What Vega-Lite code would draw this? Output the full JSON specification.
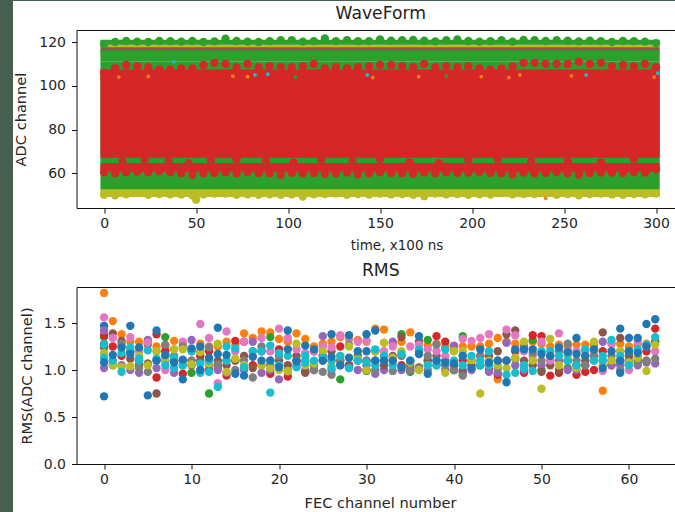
{"$schema":"https://vega.github.io/schema/vega-lite/v6.json","padding":0,"background":"white","autosize":{"type":"pad"},"spacing":0,"bounds":"flush",
"config":{"font":"DejaVu Sans","view":{"stroke":null},"axis":{"grid":false,"labelFont":"DejaVu Sans","titleFont":"DejaVu Sans","labelFontSize":14,"titleFontSize":14.6,"titleFontWeight":"normal","labelColor":"#262626","titleColor":"#262626","tickColor":"#111","domainColor":"#111","tickSize":5,"labelPadding":4,"domain":false},"title":{"font":"DejaVu Sans","fontSize":17.2,"fontWeight":"normal","color":"#222","offset":8}},
"datasets":{
"bands":[{"t":-2,"t2":302,"y":49.2,"y2":53,"c":"olive"},{"t":-2,"t2":302,"y":115.5,"y2":118,"c":"brown"},{"t":-2,"t2":302,"y":117.6,"y2":118.9,"c":"olive"},{"t":-2,"t2":302,"y":52.8,"y2":111,"c":"green"},{"t":-2,"t2":302,"y":111,"y2":116.2,"c":"green"},{"t":-2,"t2":302,"y":118.8,"y2":121,"c":"green"},{"t":-2,"t2":302,"y":60.8,"y2":64.8,"c":"red"},{"t":-2,"t2":302,"y":67.2,"y2":107.5,"c":"red"}],
"oliveLo":[{"t":0,"y":50.2},{"t":6,"y":50},{"t":12,"y":50.5},{"t":18,"y":51.5},{"t":24,"y":50.2},{"t":30,"y":50.6},{"t":36,"y":50.5},{"t":42,"y":50.4},{"t":48,"y":50},{"t":50,"y":48},{"t":54,"y":50.4},{"t":60,"y":50.8},{"t":66,"y":50.8},{"t":72,"y":50.2},{"t":78,"y":50.4},{"t":84,"y":50.2},{"t":90,"y":50.5},{"t":96,"y":50.2},{"t":102,"y":50.4},{"t":108,"y":49.4},{"t":114,"y":50.5},{"t":120,"y":50.6},{"t":126,"y":50.8},{"t":132,"y":50.2},{"t":138,"y":50.6},{"t":144,"y":50.3},{"t":150,"y":50.8},{"t":156,"y":50.4},{"t":162,"y":50.6},{"t":168,"y":50.2},{"t":174,"y":49.6},{"t":180,"y":50.8},{"t":186,"y":50.4},{"t":192,"y":50.6},{"t":198,"y":50.2},{"t":204,"y":50.5},{"t":210,"y":50.3},{"t":216,"y":51},{"t":222,"y":50.4},{"t":228,"y":50.6},{"t":234,"y":50.6},{"t":240,"y":50.8},{"t":246,"y":50.2},{"t":252,"y":50.6},{"t":258,"y":50},{"t":264,"y":50.6},{"t":270,"y":50.8},{"t":276,"y":50.4},{"t":282,"y":50.2},{"t":288,"y":50.6},{"t":294,"y":50.5},{"t":300,"y":50.8}],
"greenTop":[{"t":0,"y":119},{"t":6,"y":120},{"t":12,"y":120.5},{"t":18,"y":120.2},{"t":24,"y":120},{"t":30,"y":120.5},{"t":36,"y":120.4},{"t":42,"y":120.2},{"t":48,"y":120.5},{"t":54,"y":120},{"t":60,"y":120.3},{"t":66,"y":121.5},{"t":72,"y":120.5},{"t":78,"y":120.2},{"t":84,"y":120},{"t":90,"y":120.4},{"t":96,"y":120.8},{"t":102,"y":120.8},{"t":108,"y":120.2},{"t":114,"y":120.4},{"t":120,"y":121.6},{"t":126,"y":120.4},{"t":132,"y":120.8},{"t":138,"y":120.4},{"t":144,"y":120.4},{"t":150,"y":121.2},{"t":156,"y":120.6},{"t":162,"y":120.8},{"t":168,"y":121},{"t":174,"y":120.6},{"t":180,"y":120.3},{"t":186,"y":120.8},{"t":192,"y":121.2},{"t":198,"y":120.5},{"t":204,"y":120.2},{"t":210,"y":120.4},{"t":216,"y":120.8},{"t":222,"y":120.2},{"t":228,"y":121},{"t":234,"y":120.8},{"t":240,"y":120.5},{"t":246,"y":120.8},{"t":252,"y":120.6},{"t":258,"y":120.3},{"t":264,"y":120.6},{"t":270,"y":120.4},{"t":276,"y":120},{"t":282,"y":120.5},{"t":288,"y":120.4},{"t":294,"y":120.2},{"t":300,"y":119.5}],
"redPts":[{"t":0,"y":106},{"t":6,"y":108},{"t":12,"y":109.5},{"t":18,"y":109},{"t":24,"y":108.5},{"t":30,"y":107.5},{"t":36,"y":107.5},{"t":42,"y":108},{"t":48,"y":108},{"t":54,"y":109.5},{"t":60,"y":110.5},{"t":66,"y":110},{"t":72,"y":108.5},{"t":78,"y":110},{"t":84,"y":108.5},{"t":90,"y":109},{"t":96,"y":108.5},{"t":102,"y":108.5},{"t":108,"y":109},{"t":114,"y":110},{"t":120,"y":108},{"t":126,"y":108.5},{"t":132,"y":108},{"t":138,"y":108.5},{"t":144,"y":109},{"t":150,"y":109.5},{"t":156,"y":109.5},{"t":162,"y":109},{"t":168,"y":108.5},{"t":174,"y":110},{"t":180,"y":108.5},{"t":186,"y":109},{"t":192,"y":108.5},{"t":198,"y":109},{"t":204,"y":108},{"t":210,"y":107.5},{"t":216,"y":108},{"t":222,"y":109},{"t":228,"y":110.5},{"t":234,"y":110.5},{"t":240,"y":110},{"t":246,"y":110},{"t":252,"y":110},{"t":258,"y":111},{"t":264,"y":110},{"t":270,"y":110.5},{"t":276,"y":109},{"t":282,"y":109.5},{"t":288,"y":109},{"t":294,"y":110},{"t":300,"y":108.5},
{"t":0,"y":60.5},{"t":6,"y":60},{"t":12,"y":60.5},{"t":18,"y":60.8},{"t":24,"y":60.5},{"t":30,"y":61},{"t":36,"y":60.5},{"t":42,"y":60},{"t":48,"y":59.4},{"t":54,"y":60},{"t":60,"y":60.2},{"t":66,"y":60.5},{"t":72,"y":60},{"t":78,"y":60.6},{"t":84,"y":60.2},{"t":90,"y":60},{"t":96,"y":59.4},{"t":102,"y":60.3},{"t":108,"y":60},{"t":114,"y":60.2},{"t":120,"y":59.8},{"t":126,"y":60},{"t":132,"y":60.4},{"t":138,"y":59.6},{"t":144,"y":60},{"t":150,"y":60.5},{"t":156,"y":60.2},{"t":162,"y":60},{"t":168,"y":59.8},{"t":174,"y":60.4},{"t":180,"y":60},{"t":186,"y":60.5},{"t":192,"y":60.2},{"t":198,"y":60.4},{"t":204,"y":60.6},{"t":210,"y":60.2},{"t":216,"y":60},{"t":222,"y":59.6},{"t":228,"y":60.4},{"t":234,"y":60},{"t":240,"y":60.3},{"t":246,"y":60.6},{"t":252,"y":60},{"t":258,"y":59.4},{"t":264,"y":60.2},{"t":270,"y":60.4},{"t":276,"y":60.4},{"t":282,"y":60.2},{"t":288,"y":60.6},{"t":294,"y":60.4},{"t":300,"y":62},
{"t":10,"y":65.5},{"t":22,"y":66},{"t":35,"y":65.5},{"t":46,"y":64.5},{"t":58,"y":66},{"t":72,"y":66.5},{"t":88,"y":65.5},{"t":103,"y":65},{"t":118,"y":66},{"t":135,"y":65.5},{"t":150,"y":66.5},{"t":166,"y":65},{"t":182,"y":64.5},{"t":198,"y":66},{"t":214,"y":66.5},{"t":232,"y":65.5},{"t":252,"y":65.5},{"t":270,"y":65},{"t":288,"y":66.5}],
"specks":[{"t":8,"y":104,"c":"orange"},{"t":24,"y":104.3,"c":"orange"},{"t":38,"y":111,"c":"cyan"},{"t":70,"y":104.4,"c":"orange"},{"t":78,"y":104.2,"c":"orange"},{"t":82,"y":105,"c":"cyan"},{"t":89,"y":105.3,"c":"cyan"},{"t":104,"y":104,"c":"green"},{"t":143,"y":105,"c":"cyan"},{"t":146,"y":103.8,"c":"orange"},{"t":171,"y":104.2,"c":"orange"},{"t":186,"y":104.6,"c":"green"},{"t":205,"y":104.2,"c":"orange"},{"t":220,"y":103.8,"c":"orange"},{"t":226,"y":105,"c":"orange"},{"t":254,"y":104.6,"c":"orange"},{"t":262,"y":105,"c":"cyan"},{"t":301,"y":105.8,"c":"cyan"},{"t":299,"y":104,"c":"orange"},{"t":240,"y":48.6,"c":"orange"}],
"bBack":[{"c":0,"v":1.47}],
"orange":[{"c":0,"v":1.82},{"c":1,"v":1.52},{"c":2,"v":1.38},{"c":3,"v":1.3},{"c":4,"v":1.3},{"c":5,"v":1.27},{"c":6,"v":1.25},{"c":7,"v":1.25},{"c":8,"v":1.31},{"c":9,"v":1.29},{"c":10,"v":1.22},{"c":11,"v":1.28},{"c":12,"v":1.25},{"c":13,"v":1.25},{"c":14,"v":1.3},{"c":15,"v":1.27},{"c":16,"v":1.39},{"c":17,"v":1.34},{"c":18,"v":1.41},{"c":19,"v":1.4},{"c":20,"v":1.33},{"c":21,"v":1.3},{"c":22,"v":1.39},{"c":23,"v":1.33},{"c":24,"v":1.25},{"c":25,"v":1.28},{"c":26,"v":1.3},{"c":27,"v":1.35},{"c":28,"v":1.33},{"c":29,"v":1.32},{"c":30,"v":1.3},{"c":31,"v":1.44},{"c":32,"v":1.43},{"c":33,"v":1.28},{"c":34,"v":1.3},{"c":35,"v":1.4},{"c":36,"v":1.3},{"c":37,"v":1.26},{"c":38,"v":1.28},{"c":39,"v":1.25},{"c":40,"v":1.22},{"c":41,"v":1.25},{"c":42,"v":1.25},{"c":43,"v":1.25},{"c":44,"v":1.28},{"c":45,"v":1.34},{"c":45,"v":0.9},{"c":46,"v":1.3},{"c":47,"v":1.28},{"c":48,"v":1.25},{"c":49,"v":1.3},{"c":50,"v":1.28},{"c":51,"v":1.25},{"c":52,"v":1.27},{"c":53,"v":1.25},{"c":54,"v":1.27},{"c":55,"v":1.27},{"c":56,"v":1.26},{"c":57,"v":0.78},{"c":58,"v":1.28},{"c":59,"v":1.28},{"c":60,"v":1.25},{"c":61,"v":1.27},{"c":62,"v":1.28},{"c":63,"v":1.3}],
"green":[{"c":0,"v":1.35},{"c":7,"v":1.35},{"c":10,"v":0.97},{"c":12,"v":0.75},{"c":13,"v":1.02},{"c":19,"v":1.35},{"c":27,"v":0.9},{"c":30,"v":0.99},{"c":34,"v":1.38},{"c":35,"v":0.98},{"c":37,"v":1.32},{"c":40,"v":1},{"c":41,"v":1.36},{"c":49,"v":1.32},{"c":50,"v":1},{"c":53,"v":1.02},{"c":59,"v":1.07}],
"red":[{"c":0,"v":1.37},{"c":1,"v":1.25},{"c":2,"v":1.15},{"c":3,"v":1.2},{"c":4,"v":1.1},{"c":5,"v":1.28},{"c":6,"v":1.38},{"c":6,"v":0.92},{"c":7,"v":1.2},{"c":8,"v":1.1},{"c":9,"v":0.96},{"c":10,"v":1.1},{"c":11,"v":1.15},{"c":12,"v":1.2},{"c":13,"v":1.05},{"c":14,"v":0.94},{"c":15,"v":1.31},{"c":16,"v":1.3},{"c":17,"v":1.05},{"c":18,"v":1.2},{"c":19,"v":0.96},{"c":20,"v":1.22},{"c":21,"v":0.93},{"c":22,"v":1.1},{"c":23,"v":0.98},{"c":24,"v":1.2},{"c":25,"v":1.15},{"c":26,"v":1.1},{"c":27,"v":1.25},{"c":28,"v":1.05},{"c":29,"v":1.1},{"c":30,"v":1},{"c":31,"v":1.2},{"c":32,"v":1.15},{"c":33,"v":1.1},{"c":34,"v":1.05},{"c":35,"v":1},{"c":36,"v":1.2},{"c":37,"v":1.1},{"c":38,"v":1.36},{"c":39,"v":1.3},{"c":40,"v":1},{"c":41,"v":1.1},{"c":42,"v":1.05},{"c":43,"v":1.15},{"c":44,"v":1},{"c":45,"v":0.95},{"c":46,"v":1.1},{"c":47,"v":1.2},{"c":48,"v":0.97},{"c":49,"v":1.37},{"c":50,"v":1.36},{"c":51,"v":0.94},{"c":52,"v":0.97},{"c":53,"v":1.1},{"c":54,"v":0.95},{"c":55,"v":0.98},{"c":56,"v":1},{"c":57,"v":1.2},{"c":58,"v":1.05},{"c":59,"v":1.1},{"c":60,"v":1.18},{"c":61,"v":1.13},{"c":62,"v":1.2},{"c":63,"v":1.44}],
"purple":[{"c":0,"v":1.42},{"c":0,"v":1.02},{"c":1,"v":1.1},{"c":2,"v":1.05},{"c":3,"v":1},{"c":4,"v":0.97},{"c":5,"v":1.32},{"c":6,"v":1.02},{"c":7,"v":1.1},{"c":8,"v":0.97},{"c":9,"v":1.05},{"c":10,"v":1.32},{"c":11,"v":1},{"c":12,"v":1.05},{"c":13,"v":1},{"c":14,"v":0.97},{"c":15,"v":1.1},{"c":16,"v":1},{"c":17,"v":1.3},{"c":18,"v":0.97},{"c":19,"v":1},{"c":20,"v":0.9},{"c":21,"v":1},{"c":22,"v":1.05},{"c":23,"v":1},{"c":24,"v":1},{"c":25,"v":1.36},{"c":26,"v":1},{"c":27,"v":1.05},{"c":28,"v":1.02},{"c":29,"v":1},{"c":30,"v":1.05},{"c":31,"v":0.96},{"c":32,"v":1},{"c":33,"v":1.3},{"c":34,"v":1},{"c":35,"v":1.02},{"c":36,"v":1.28},{"c":37,"v":1},{"c":38,"v":1.05},{"c":39,"v":1},{"c":40,"v":1.26},{"c":41,"v":1},{"c":42,"v":1},{"c":43,"v":1.05},{"c":44,"v":0.98},{"c":45,"v":0.97},{"c":46,"v":1.29},{"c":47,"v":1.05},{"c":48,"v":1},{"c":49,"v":1.1},{"c":50,"v":1.05},{"c":51,"v":1.1},{"c":52,"v":1.1},{"c":53,"v":1},{"c":54,"v":1},{"c":55,"v":1.05},{"c":56,"v":1.1},{"c":57,"v":1.3},{"c":58,"v":1.05},{"c":59,"v":1.05},{"c":60,"v":1.1},{"c":61,"v":1.05},{"c":62,"v":1.08},{"c":63,"v":1.07}],
"brown":[{"c":0,"v":1.24},{"c":1,"v":1.39},{"c":2,"v":1.31},{"c":3,"v":1.12},{"c":4,"v":1.05},{"c":5,"v":1.07},{"c":6,"v":0.75},{"c":7,"v":1.15},{"c":8,"v":1.1},{"c":9,"v":1.1},{"c":10,"v":1.05},{"c":11,"v":1.1},{"c":12,"v":1},{"c":13,"v":1.1},{"c":14,"v":1.05},{"c":15,"v":1.1},{"c":16,"v":1.15},{"c":17,"v":1.02},{"c":18,"v":1.05},{"c":19,"v":1.1},{"c":20,"v":1.1},{"c":21,"v":1.05},{"c":22,"v":1.15},{"c":23,"v":0.97},{"c":24,"v":1.05},{"c":25,"v":1.1},{"c":26,"v":1.2},{"c":27,"v":1.1},{"c":28,"v":1.05},{"c":29,"v":1.15},{"c":30,"v":1.1},{"c":31,"v":1.1},{"c":32,"v":1.05},{"c":33,"v":1.15},{"c":34,"v":1.35},{"c":35,"v":1.05},{"c":36,"v":1.3},{"c":37,"v":1.1},{"c":38,"v":1.15},{"c":39,"v":1.1},{"c":40,"v":1.05},{"c":41,"v":0.97},{"c":42,"v":1.1},{"c":43,"v":1.05},{"c":44,"v":1.15},{"c":45,"v":1.2},{"c":46,"v":1.38},{"c":47,"v":1.42},{"c":48,"v":1.1},{"c":49,"v":1.05},{"c":50,"v":0.98},{"c":51,"v":1.05},{"c":52,"v":1},{"c":53,"v":1.1},{"c":54,"v":1.05},{"c":55,"v":1.1},{"c":56,"v":1.15},{"c":57,"v":1.4},{"c":58,"v":1.1},{"c":59,"v":1.34},{"c":60,"v":1.15},{"c":61,"v":1.1},{"c":62,"v":1.1},{"c":63,"v":1.3}],
"pink":[{"c":0,"v":1.56},{"c":1,"v":1.34},{"c":2,"v":1.25},{"c":3,"v":1.35},{"c":4,"v":1.2},{"c":5,"v":1.29},{"c":6,"v":1.2},{"c":7,"v":1},{"c":8,"v":1.22},{"c":9,"v":1.3},{"c":10,"v":1.2},{"c":11,"v":1.49},{"c":12,"v":1.34},{"c":13,"v":0.86},{"c":14,"v":1.41},{"c":15,"v":1.2},{"c":16,"v":1.3},{"c":17,"v":1.15},{"c":18,"v":1.34},{"c":19,"v":1.2},{"c":20,"v":1.44},{"c":21,"v":1.34},{"c":22,"v":1.22},{"c":23,"v":1.18},{"c":24,"v":1.2},{"c":25,"v":1.25},{"c":26,"v":1.24},{"c":27,"v":1.37},{"c":28,"v":1.34},{"c":29,"v":1.3},{"c":30,"v":1.31},{"c":31,"v":1.2},{"c":32,"v":1.2},{"c":33,"v":1.25},{"c":34,"v":1.15},{"c":35,"v":1.25},{"c":36,"v":1.27},{"c":37,"v":1.22},{"c":38,"v":1.2},{"c":39,"v":1.15},{"c":40,"v":1.1},{"c":41,"v":1.33},{"c":42,"v":1.31},{"c":43,"v":1.34},{"c":44,"v":1.38},{"c":45,"v":1.1},{"c":46,"v":1.43},{"c":47,"v":1.37},{"c":48,"v":1.2},{"c":49,"v":1.15},{"c":50,"v":1.3},{"c":51,"v":1.1},{"c":52,"v":1.39},{"c":53,"v":1.2},{"c":54,"v":1.2},{"c":55,"v":1.2},{"c":56,"v":1.2},{"c":57,"v":0.99},{"c":58,"v":1.28},{"c":59,"v":1.2},{"c":60,"v":1},{"c":61,"v":1.3},{"c":62,"v":1.25},{"c":63,"v":1.2}],
"gray":[{"c":0,"v":1.28},{"c":1,"v":1.05},{"c":2,"v":1.28},{"c":3,"v":1.2},{"c":4,"v":1.02},{"c":5,"v":0.98},{"c":6,"v":1.1},{"c":7,"v":1.27},{"c":8,"v":1.15},{"c":9,"v":1.25},{"c":10,"v":1.1},{"c":11,"v":1.2},{"c":12,"v":1.24},{"c":13,"v":1.06},{"c":14,"v":1.1},{"c":15,"v":1},{"c":16,"v":1.1},{"c":17,"v":0.92},{"c":18,"v":1.25},{"c":19,"v":1.05},{"c":20,"v":1.15},{"c":21,"v":0.98},{"c":22,"v":1.1},{"c":23,"v":1.1},{"c":24,"v":1},{"c":25,"v":0.98},{"c":26,"v":0.95},{"c":27,"v":1.1},{"c":28,"v":1.27},{"c":29,"v":1.1},{"c":30,"v":1.1},{"c":31,"v":1},{"c":32,"v":1.1},{"c":33,"v":0.99},{"c":34,"v":1.15},{"c":35,"v":1},{"c":36,"v":1.03},{"c":37,"v":1.15},{"c":38,"v":1.27},{"c":39,"v":1.05},{"c":40,"v":1},{"c":41,"v":0.94},{"c":42,"v":1.1},{"c":43,"v":1.15},{"c":44,"v":1.05},{"c":45,"v":1.02},{"c":46,"v":1.1},{"c":47,"v":1.12},{"c":48,"v":1.25},{"c":49,"v":1.18},{"c":50,"v":1.1},{"c":51,"v":1.15},{"c":52,"v":1.2},{"c":53,"v":1.28},{"c":54,"v":1.1},{"c":55,"v":1.05},{"c":56,"v":1.15},{"c":57,"v":1.1},{"c":58,"v":1.15},{"c":59,"v":1},{"c":60,"v":1.2},{"c":61,"v":1.08},{"c":62,"v":1.1},{"c":63,"v":1.12}],
"olive":[{"c":0,"v":1.18},{"c":1,"v":1.05},{"c":2,"v":1.03},{"c":3,"v":1.04},{"c":4,"v":1.15},{"c":5,"v":1.05},{"c":6,"v":1.2},{"c":7,"v":1.12},{"c":8,"v":1.22},{"c":9,"v":1.22},{"c":10,"v":1.06},{"c":11,"v":1.19},{"c":12,"v":1.07},{"c":13,"v":1.28},{"c":14,"v":0.98},{"c":15,"v":1.12},{"c":16,"v":1.05},{"c":17,"v":1.2},{"c":18,"v":1.05},{"c":19,"v":1.02},{"c":20,"v":1},{"c":21,"v":0.99},{"c":22,"v":1.28},{"c":23,"v":1.05},{"c":24,"v":1.07},{"c":25,"v":1.2},{"c":26,"v":1.05},{"c":27,"v":1.15},{"c":28,"v":1.25},{"c":29,"v":1.12},{"c":30,"v":1},{"c":31,"v":1.2},{"c":32,"v":1.29},{"c":33,"v":1.13},{"c":34,"v":1.2},{"c":35,"v":1.08},{"c":36,"v":1},{"c":37,"v":1.05},{"c":38,"v":1.1},{"c":39,"v":0.97},{"c":40,"v":1.2},{"c":41,"v":1.2},{"c":42,"v":1.1},{"c":43,"v":0.75},{"c":44,"v":1.1},{"c":45,"v":1.05},{"c":46,"v":1.02},{"c":47,"v":1.13},{"c":48,"v":1.3},{"c":49,"v":1.1},{"c":50,"v":0.8},{"c":51,"v":1.33},{"c":52,"v":1.05},{"c":53,"v":1.15},{"c":54,"v":1.02},{"c":55,"v":1.15},{"c":56,"v":1.3},{"c":57,"v":1.05},{"c":58,"v":1.1},{"c":59,"v":1.2},{"c":60,"v":1.08},{"c":61,"v":1.13},{"c":62,"v":0.99},{"c":63,"v":1.27}],
"cyan":[{"c":0,"v":1.27},{"c":1,"v":1.1},{"c":2,"v":1.18},{"c":3,"v":1.24},{"c":4,"v":1.1},{"c":5,"v":1.21},{"c":6,"v":1.12},{"c":7,"v":1.05},{"c":8,"v":1.13},{"c":9,"v":1.05},{"c":10,"v":1.2},{"c":11,"v":1.07},{"c":12,"v":0.98},{"c":13,"v":0.82},{"c":14,"v":1.25},{"c":15,"v":1.23},{"c":16,"v":1.03},{"c":17,"v":1.2},{"c":18,"v":1.2},{"c":19,"v":1.26},{"c":19,"v":0.76},{"c":20,"v":1.18},{"c":21,"v":1.15},{"c":22,"v":1.03},{"c":23,"v":1.15},{"c":24,"v":1.1},{"c":25,"v":1.13},{"c":26,"v":1.1},{"c":27,"v":1.15},{"c":28,"v":1.02},{"c":29,"v":1.1},{"c":30,"v":1.08},{"c":31,"v":1.22},{"c":32,"v":1.15},{"c":33,"v":1.05},{"c":34,"v":1.17},{"c":35,"v":1.1},{"c":36,"v":1.22},{"c":37,"v":1.05},{"c":38,"v":1.1},{"c":39,"v":1.22},{"c":40,"v":1.1},{"c":41,"v":1.05},{"c":42,"v":1.15},{"c":43,"v":1.05},{"c":44,"v":1.2},{"c":45,"v":1.1},{"c":46,"v":0.95},{"c":47,"v":0.97},{"c":48,"v":1.05},{"c":49,"v":0.99},{"c":50,"v":1.2},{"c":51,"v":1.2},{"c":52,"v":1.15},{"c":53,"v":1.1},{"c":54,"v":1.05},{"c":55,"v":1.22},{"c":56,"v":1.1},{"c":57,"v":1.1},{"c":58,"v":1.32},{"c":59,"v":1.15},{"c":60,"v":1.2},{"c":61,"v":1.22},{"c":62,"v":1.27},{"c":63,"v":1.35},{"c":0,"v":1.13},{"c":2,"v":0.98},{"c":4,"v":1.12},{"c":8,"v":1.02},{"c":11,"v":0.97},{"c":12,"v":1.1},{"c":14,"v":1.1},{"c":20,"v":1.05},{"c":23,"v":1.08},{"c":26,"v":1.02},{"c":31,"v":1.05},{"c":38,"v":1.05},{"c":41,"v":1.15},{"c":43,"v":1.1},{"c":44,"v":1.05},{"c":48,"v":1.02},{"c":53,"v":1.18},{"c":57,"v":1.15},{"c":60,"v":1.05}],
"blue":[{"c":0,"v":1.08},{"c":0,"v":0.72},{"c":1,"v":1.16},{"c":2,"v":1.24},{"c":3,"v":1.17},{"c":3,"v":1.47},{"c":4,"v":1.24},{"c":5,"v":0.73},{"c":6,"v":1.1},{"c":6,"v":1.42},{"c":7,"v":1.16},{"c":8,"v":1.08},{"c":9,"v":1.11},{"c":9,"v":0.9},{"c":10,"v":1.23},{"c":11,"v":1},{"c":11,"v":1.25},{"c":12,"v":1.13},{"c":13,"v":1.17},{"c":13,"v":1.45},{"c":14,"v":1.16},{"c":15,"v":0.96},{"c":16,"v":0.94},{"c":17,"v":1.14},{"c":18,"v":1.1},{"c":19,"v":1.1},{"c":20,"v":1.03},{"c":21,"v":1.22},{"c":21,"v":1.42},{"c":22,"v":1.09},{"c":23,"v":1.26},{"c":24,"v":1.22},{"c":25,"v":1.1},{"c":26,"v":1.14},{"c":26,"v":1.38},{"c":27,"v":1.05},{"c":28,"v":1.13},{"c":28,"v":1.37},{"c":29,"v":1.2},{"c":30,"v":1.2},{"c":30,"v":1.38},{"c":31,"v":1.1},{"c":31,"v":1.42},{"c":32,"v":1.1},{"c":33,"v":1.1},{"c":34,"v":1.03},{"c":35,"v":1.1},{"c":36,"v":1.17},{"c":36,"v":1.36},{"c":37,"v":0.96},{"c":38,"v":1.1},{"c":39,"v":1.08},{"c":40,"v":1.07},{"c":41,"v":1.15},{"c":42,"v":1.02},{"c":43,"v":1.22},{"c":44,"v":1.08},{"c":45,"v":1.1},{"c":46,"v":1.1},{"c":46,"v":0.87},{"c":47,"v":1.22},{"c":48,"v":1.22},{"c":49,"v":1.22},{"c":50,"v":1.17},{"c":51,"v":1.15},{"c":52,"v":1.24},{"c":53,"v":1.19},{"c":54,"v":1.17},{"c":54,"v":1.34},{"c":55,"v":1.15},{"c":56,"v":1.22},{"c":57,"v":1.02},{"c":58,"v":1.2},{"c":59,"v":1.1},{"c":59,"v":1.44},{"c":59,"v":0.97},{"c":60,"v":1.2},{"c":60,"v":1.34},{"c":61,"v":1.18},{"c":61,"v":1.34},{"c":62,"v":1.25},{"c":62,"v":1.49},{"c":63,"v":1.54}]
},
"vconcat":[
{"width":675,"height":1,"view":{"fill":"#466050","stroke":null},"data":{"values":[{"k":1}]},"mark":{"type":"point","size":0,"opacity":0},"encoding":{}},
{"bounds":"flush","spacing":63.5,"hconcat":[
{"width":13,"height":511,"view":{"fill":"#466050","stroke":null},"data":{"values":[{"k":1}]},"mark":{"type":"point","size":0,"opacity":0},"encoding":{}},
{"bounds":"flush","spacing":28,"vconcat":[
{"width":1,"height":1,"data":{"values":[{"k":1}]},"mark":{"type":"point","size":0,"opacity":0},"encoding":{}},
{"bounds":"flush","spacing":79,"vconcat":[
{"width":598.5,"height":178,"title":{"text":"WaveForm","dx":5},"view":{"stroke":"#111","fill":"white"},
"encoding":{"x":{"field":"t","type":"quantitative","scale":{"domain":[-15,310.3],"nice":false,"zero":false},"axis":{"values":[0,50,100,150,200,250,300],"title":"time, x100 ns","titleFontSize":13.5,"titleX":320,"titleY":30,"labelPadding":3}},"y":{"field":"y","type":"quantitative","scale":{"domain":[44.2,125.5],"nice":false,"zero":false},"axis":{"values":[60,80,100,120],"title":"ADC channel","titleX":-48,"labelPadding":6}}},
"layer":[
{"data":{"name":"oliveLo"},"mark":{"type":"circle","size":70,"opacity":1,"color":"#bcbd22"}},
{"data":{"name":"bands"},"mark":{"type":"rect"},"encoding":{"x2":{"field":"t2"},"y2":{"field":"y2"},"color":{"field":"c","type":"nominal","legend":null,"scale":{"domain":["olive","brown","green","red","orange","cyan"],"range":["#bcbd22","#8c564b","#2ca02c","#d62728","#ff7f0e","#17becf"]}}}},
{"data":{"name":"greenTop"},"mark":{"type":"circle","size":70,"opacity":1,"color":"#2ca02c"}},
{"data":{"name":"redPts"},"mark":{"type":"circle","size":70,"opacity":1,"color":"#d62728"}},
{"data":{"name":"specks"},"mark":{"type":"circle","size":14,"opacity":1},"encoding":{"color":{"field":"c","type":"nominal","legend":null,"scale":{"domain":["olive","brown","green","red","orange","cyan"],"range":["#bcbd22","#8c564b","#2ca02c","#d62728","#ff7f0e","#17becf"]}}}}
]},
{"width":598.5,"height":177,"title":{"text":"RMS","dx":5},"view":{"stroke":"#111","fill":"white"},
"encoding":{"x":{"field":"c","type":"quantitative","scale":{"domain":[-3.15,65.26],"nice":false,"zero":false},"axis":{"values":[0,10,20,30,40,50,60],"title":"FEC channel number","titleY":31,"titleX":303.5,"labelPadding":3}},"y":{"field":"v","type":"quantitative","scale":{"domain":[0,1.883],"nice":false,"zero":false},"axis":{"values":[0,0.5,1,1.5],"format":".1f","title":"RMS(ADC channel)","titleX":-42.5,"labelPadding":6}}},
"layer":[
{"data":{"name":"bBack"},"mark":{"type":"circle","size":70,"opacity":1,"color":"#1f77b4"}},
{"data":{"name":"orange"},"mark":{"type":"circle","size":70,"opacity":1,"color":"#ff7f0e"}},
{"data":{"name":"green"},"mark":{"type":"circle","size":70,"opacity":1,"color":"#2ca02c"}},
{"data":{"name":"red"},"mark":{"type":"circle","size":70,"opacity":1,"color":"#d62728"}},
{"data":{"name":"purple"},"mark":{"type":"circle","size":70,"opacity":1,"color":"#9467bd"}},
{"data":{"name":"brown"},"mark":{"type":"circle","size":70,"opacity":1,"color":"#8c564b"}},
{"data":{"name":"pink"},"mark":{"type":"circle","size":70,"opacity":1,"color":"#e377c2"}},
{"data":{"name":"gray"},"mark":{"type":"circle","size":70,"opacity":1,"color":"#7f7f7f"}},
{"data":{"name":"olive"},"mark":{"type":"circle","size":70,"opacity":1,"color":"#bcbd22"}},
{"data":{"name":"cyan"},"mark":{"type":"circle","size":70,"opacity":1,"color":"#17becf"}},
{"data":{"name":"blue"},"mark":{"type":"circle","size":70,"opacity":1,"color":"#1f77b4"}}
]}
]}
]}
]}
]}
